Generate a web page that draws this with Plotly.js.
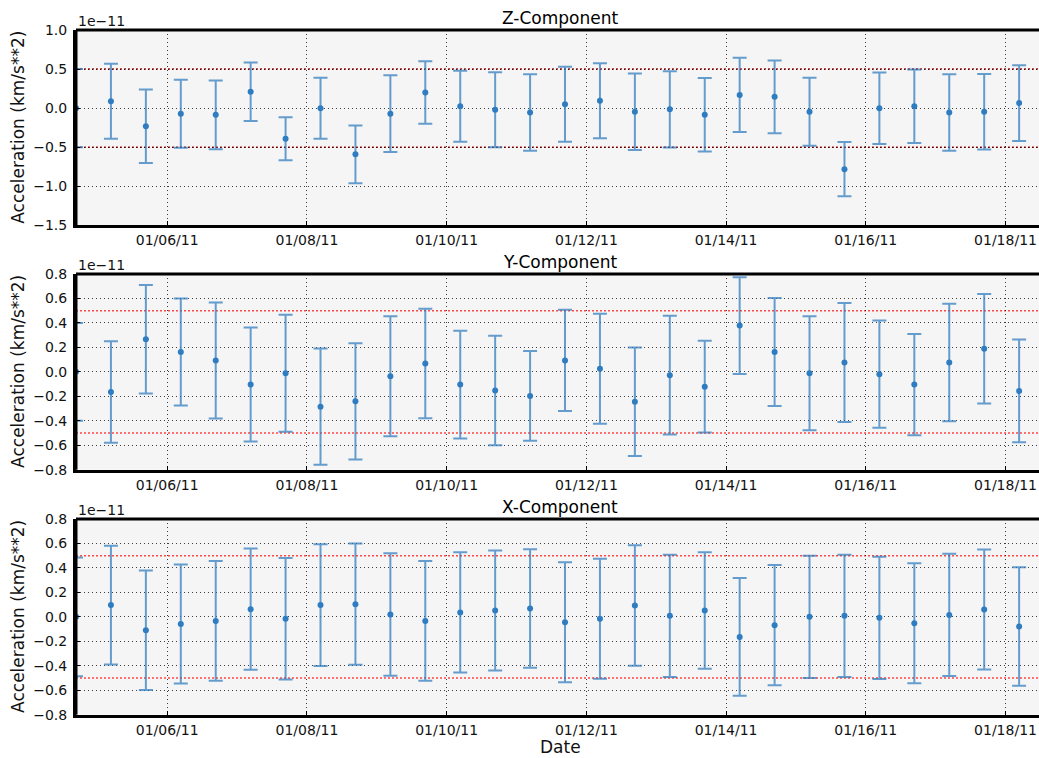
<!DOCTYPE html>
<html>
<head>
<meta charset="utf-8">
<script src="https://cdn.plot.ly/plotly-3.0.1.min.js"></script>
<style>
html, body { margin: 0; padding: 0; background: #ffffff; overflow: hidden; }
#chart { width: 1039px; height: 758px; }
</style>
</head>
<body>
<div id="chart"></div>
<script>
// Observation times (12-hour steps)
const times = [
  '2011-01-04 16:40', '2011-01-05 04:40', '2011-01-05 16:40', '2011-01-06 04:40',
  '2011-01-06 16:40', '2011-01-07 04:40', '2011-01-07 16:40', '2011-01-08 04:40',
  '2011-01-08 16:40', '2011-01-09 04:40', '2011-01-09 16:40', '2011-01-10 04:40',
  '2011-01-10 16:40', '2011-01-11 04:40', '2011-01-11 16:40', '2011-01-12 04:40',
  '2011-01-12 16:40', '2011-01-13 04:40', '2011-01-13 16:40', '2011-01-14 04:40',
  '2011-01-14 16:40', '2011-01-15 04:40', '2011-01-15 16:40', '2011-01-16 04:40',
  '2011-01-16 16:40', '2011-01-17 04:40', '2011-01-17 16:40', '2011-01-18 04:40'
];

// Values in units of 1e-11 km/s**2
const zVal = [0.00, 0.09, -0.23, -0.07, -0.085, 0.21, -0.39, 0.00, -0.59, -0.07, 0.20, 0.025, -0.02, -0.055,
              0.05, 0.095, -0.045, -0.015, -0.085, 0.17, 0.145, -0.045, -0.78, 0.00, 0.025, -0.055, -0.045, 0.065];
const zErr = [0.50, 0.48, 0.47, 0.435, 0.44, 0.375, 0.275, 0.39, 0.37, 0.49, 0.40, 0.455, 0.48, 0.49,
              0.48, 0.48, 0.49, 0.487, 0.47, 0.474, 0.465, 0.434, 0.347, 0.457, 0.47, 0.49, 0.483, 0.483];

const yVal = [0.00, -0.164, 0.266, 0.162, 0.093, -0.104, -0.011, -0.285, -0.241, -0.036, 0.068, -0.104, -0.153, -0.197,
              0.093, 0.025, -0.244, -0.027, -0.121, 0.378, 0.162, -0.011, 0.077, -0.019, -0.104, 0.077, 0.189, -0.156];
const yErr = [0.40, 0.415, 0.444, 0.437, 0.475, 0.466, 0.478, 0.475, 0.475, 0.49, 0.448, 0.441, 0.448, 0.367,
              0.414, 0.45, 0.444, 0.486, 0.375, 0.396, 0.442, 0.466, 0.486, 0.438, 0.414, 0.48, 0.448, 0.42];

const xVal = [0.00, 0.096, -0.11, -0.058, -0.033, 0.063, -0.016, 0.096, 0.104, 0.019, -0.033, 0.036, 0.052, 0.068,
              -0.044, -0.016, 0.093, 0.008, 0.052, -0.164, -0.068, 0.00, 0.008, -0.008, -0.052, 0.016, 0.06, -0.079];
const xErr = [0.485, 0.485, 0.488, 0.486, 0.49, 0.496, 0.497, 0.497, 0.496, 0.50, 0.49, 0.492, 0.49, 0.484,
              0.49, 0.49, 0.492, 0.50, 0.477, 0.482, 0.492, 0.50, 0.50, 0.50, 0.49, 0.50, 0.49, 0.485];

const panelTitles = ['Z-Component', 'Y-Component', 'X-Component'];
const yRanges = [[-1.5, 1.0], [-0.8, 0.8], [-0.8, 0.8]];
const yDticks = [0.5, 0.2, 0.2];
const limitLevels = [0.5, -0.5];
const xTitle = 'Date';
const yTitle = 'Acceleration (km/s**2)';
const offsetText = '1e\u221211';

const series = [[zVal, zErr], [yVal, yErr], [xVal, xErr]];
const domains = [[0.70251, 0.96042], [0.38034, 0.63852], [0.05712, 0.31530]];
const FONT = 'DejaVu Sans, Liberation Sans, sans-serif';
const barColor = 'rgba(44,122,190,0.72)';
const dotColor = '#2f7cc0';

const traces = [];
const layout = {
  width: 1039, height: 758,
  margin: {l: 76, r: 0, t: 0, b: 0},
  paper_bgcolor: '#ffffff',
  plot_bgcolor: '#f5f5f5',
  showlegend: false,
  font: {family: FONT, size: 14, color: '#000'},
  shapes: [],
  annotations: []
};

series.forEach((s, i) => {
  const n = i === 0 ? '' : String(i + 1);
  traces.push({
    type: 'scatter', mode: 'markers',
    x: times, y: s[0],
    xaxis: 'x' + n, yaxis: 'y' + n,
    marker: {color: dotColor, size: 6},
    error_y: {type: 'data', array: s[1], visible: true, color: barColor, thickness: 2, width: 7},
    cliponaxis: true,
    hoverinfo: 'skip'
  });
  layout['xaxis' + n] = {
    anchor: 'y' + n,
    domain: [0, 1],
    type: 'date',
    range: ['2011-01-04 16:40', '2011-01-18 11:30'],
    tick0: '2011-01-06', dtick: 2 * 86400000,
    tickformat: '%m/%d/%y',
    showgrid: true, gridcolor: 'rgba(0,0,0,0.75)', gridwidth: 1, griddash: '1px,3px',
    showline: true, linecolor: '#000', linewidth: 3,
    ticks: 'inside', ticklen: 4, tickcolor: '#000',
    ticklabelstandoff: 0,
    zeroline: false,
    tickfont: {family: FONT, size: 14, color: '#111'}
  };
  layout['yaxis' + n] = {
    anchor: 'x' + n,
    domain: domains[i],
    range: yRanges[i],
    dtick: yDticks[i], tick0: 0,
    tickformat: '.1f',
    showgrid: true, gridcolor: 'rgba(0,0,0,0.75)', gridwidth: 1, griddash: '1px,3px',
    showline: true, linecolor: '#000', linewidth: 3,
    ticks: 'inside', ticklen: 4, tickcolor: '#000',
    ticklabelstandoff: 3,
    zeroline: false,
    tickfont: {family: FONT, size: 14, color: '#111'}
  };
  // top and left frame lines (drawn above data)
  layout.shapes.push({
    type: 'line', xref: 'x' + n + ' domain', yref: 'y' + n + ' domain',
    x0: 0, x1: 1, y0: 1, y1: 1, line: {color: '#000', width: 3}, layer: 'above'
  });
  layout.shapes.push({
    type: 'line', xref: 'x' + n + ' domain', yref: 'y' + n + ' domain',
    x0: 0, x1: 0, y0: 0, y1: 1, line: {color: '#000', width: 3}, layer: 'above'
  });
  // +-0.5 limit lines
  limitLevels.forEach(v => {
    layout.shapes.push({
      type: 'line', xref: 'x' + n + ' domain', yref: 'y' + n,
      x0: 0, x1: 1, y0: v, y1: v,
      line: {color: i === 0 ? 'rgba(170,0,0,0.9)' : 'rgba(255,40,40,0.85)', width: 1.5, dash: '2px,2px'},
      layer: 'below'
    });
  });
  const top = domains[i][1], mid = (domains[i][0] + domains[i][1]) / 2;
  layout.annotations.push({
    text: panelTitles[i], xref: 'paper', yref: 'paper', x: 0.5026, y: top,
    xanchor: 'center', yanchor: 'bottom', yshift: 0, showarrow: false,
    font: {family: FONT, size: 17, color: '#000'}
  });
  layout.annotations.push({
    text: offsetText, xref: 'paper', yref: 'paper', x: 0, y: top,
    xanchor: 'left', yanchor: 'bottom', yshift: -1, showarrow: false,
    font: {family: FONT, size: 14, color: '#111'}
  });
  layout.annotations.push({
    text: yTitle, xref: 'paper', yref: 'paper', x: -0.0602, y: mid,
    xanchor: 'center', yanchor: 'middle', textangle: -90, showarrow: false,
    font: {family: FONT, size: 17, color: '#111'}
  });
});

layout.annotations.push({
  text: xTitle, xref: 'paper', yref: 'paper', x: 0.5026, y: 0,
  xanchor: 'center', yanchor: 'bottom', yshift: -1, showarrow: false,
  font: {family: FONT, size: 17, color: '#111'}
});

Plotly.newPlot('chart', traces, layout, {displayModeBar: false, staticPlot: true});
</script>
</body>
</html>
